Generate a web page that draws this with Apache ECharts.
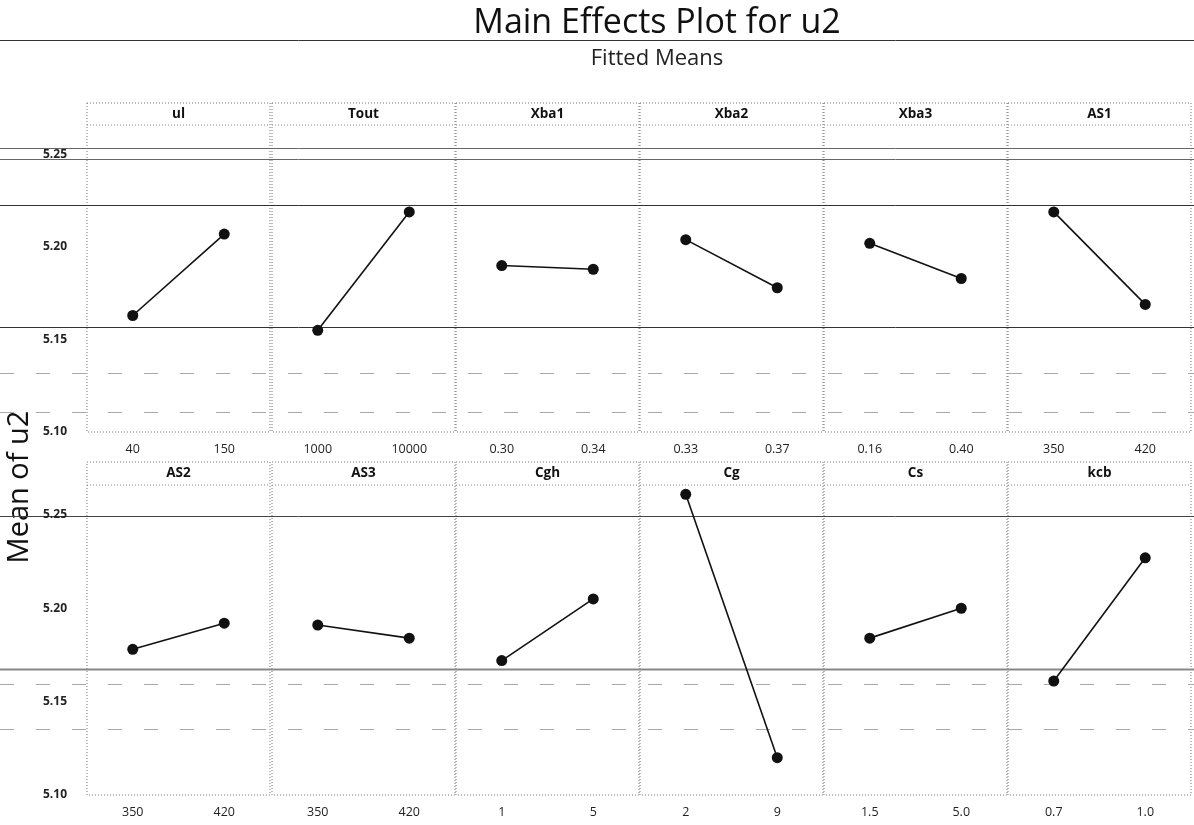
<!DOCTYPE html>
<html>
<head>
<meta charset="utf-8">
<script src="https://cdn.jsdelivr.net/npm/echarts@6/dist/echarts.min.js"></script>
<style>
  html, body { margin: 0; padding: 0; background: #fff; }
  #chart { width: 1194px; height: 825px; }
</style>
</head>
<body>
<div id="chart"></div>
<script>
// Factors, their two levels and the fitted mean of u2 at each level
const factors = ['ul', 'Tout', 'Xba1', 'Xba2', 'Xba3', 'AS1', 'AS2', 'AS3', 'Cgh', 'Cg', 'Cs', 'kcb'];
const levelLabels = [
  ['40', '150'], ['1000', '10000'], ['0.30', '0.34'], ['0.33', '0.37'], ['0.16', '0.40'], ['350', '420'],
  ['350', '420'], ['350', '420'], ['1', '5'], ['2', '9'], ['1.5', '5.0'], ['0.7', '1.0']
];
const fittedMeans = [
  [5.163, 5.207], [5.155, 5.219], [5.190, 5.188], [5.204, 5.178], [5.202, 5.183], [5.219, 5.169],
  [5.178, 5.192], [5.191, 5.184], [5.172, 5.205], [5.261, 5.120], [5.184, 5.200], [5.161, 5.227]
];
const yTickLabels = ['5.10', '5.15', '5.20', '5.25'];
// Horizontal rules across each row (value on the row's axis)
const topRowRules = [5.2535, 5.2475, 5.2227, 5.1568];
const bottomRowRules = [5.2495, 5.1676];
const topRowDashed = [5.132, 5.111];
const bottomRowDashed = [5.1596, 5.1351];

const Y_MIN = 5.10, Y_MAX = 5.266, Y_STEP = 0.05;
const panelLefts = [87, 272, 456, 640, 824, 1008];
const panelWidth = 183;
const rows = [
  { headerTop: 103, plotTop: 125, plotBottom: 432 },
  { headerTop: 462, plotTop: 485, plotBottom: 795 }
];
const FONT = '"Open Sans", "Noto Sans", sans-serif';

const chart = echarts.init(document.getElementById('chart'), null, { renderer: 'canvas' });

const grids = [], xAxes = [], yAxes = [], series = [];
factors.forEach((name, i) => {
  const row = rows[Math.floor(i / 6)];
  const col = i % 6;
  grids.push({
    left: panelLefts[col], width: panelWidth,
    top: row.plotTop, height: row.plotBottom - row.plotTop,
    containLabel: false
  });
  xAxes.push({
    type: 'category', gridIndex: i, data: levelLabels[i],
    axisLine: { show: false }, axisTick: { show: false },
    axisLabel: { fontSize: 12.5, color: '#222', margin: 11, fontFamily: FONT }
  });
  yAxes.push({
    type: 'value', gridIndex: i, min: Y_MIN, max: Y_MAX, interval: Y_STEP,
    splitLine: { show: false },
    axisLine: { show: false },
    axisTick: { show: false },
    axisLabel: {
      show: col === 0, fontSize: 12, fontWeight: 'bold', color: '#222', margin: 20, fontFamily: FONT,
      formatter: v => {
        const s = v.toFixed(2);
        return yTickLabels.includes(s) ? s : '';
      }
    }
  });
  series.push({
    type: 'line', name: name, xAxisIndex: i, yAxisIndex: i,
    data: fittedMeans[i],
    symbol: 'circle', symbolSize: 11,
    lineStyle: { color: '#111', width: 1.6 },
    itemStyle: { color: '#111' },
    silent: true, animation: false
  });
});

chart.setOption({
  animation: false,
  grid: grids, xAxis: xAxes, yAxis: yAxes, series: series
});

// Frames, strip headers, titles and row rules
const graphics = [];
graphics.push({
  type: 'text', x: 657, y: 23,
  style: { text: 'Main Effects Plot for u2', font: '34px ' + FONT, fill: '#111', textAlign: 'center', textVerticalAlign: 'middle' }
});
graphics.push({ type: 'line', shape: { x1: 0, y1: 40.5, x2: 1194, y2: 40.5 }, style: { stroke: '#333', lineWidth: 1 } });
graphics.push({
  type: 'text', x: 657, y: 59,
  style: { text: 'Fitted Means', font: '22px ' + FONT, fill: '#222', textAlign: 'center', textVerticalAlign: 'middle' }
});
graphics.push({
  type: 'text', x: 20, y: 487, rotation: Math.PI / 2,
  style: { text: 'Mean of u2', font: '29px ' + FONT, fill: '#111', textAlign: 'center', textVerticalAlign: 'middle' }
});

factors.forEach((name, i) => {
  const row = rows[Math.floor(i / 6)];
  const x = panelLefts[i % 6];
  graphics.push({
    type: 'rect',
    shape: { x: x, y: row.headerTop, width: panelWidth, height: row.plotBottom - row.headerTop },
    style: { fill: 'none', stroke: '#777', lineWidth: 1, lineDash: [1, 2] }
  });
  graphics.push({
    type: 'line',
    shape: { x1: x, y1: row.plotTop, x2: x + panelWidth, y2: row.plotTop },
    style: { stroke: '#888', lineWidth: 1, lineDash: [1, 2] }
  });
  graphics.push({
    type: 'text', x: x + panelWidth / 2, y: (row.headerTop + row.plotTop) / 2,
    style: { text: name, font: 'bold 13.5px ' + FONT, fill: '#111', textAlign: 'center', textVerticalAlign: 'middle' }
  });
});

const ruleLine = (yPix, stroke, width, dash) => ({
  type: 'line', shape: { x1: 0, y1: yPix, x2: 1194, y2: yPix },
  style: { stroke: stroke, lineWidth: width, lineDash: dash || null }
});
const rowPixel = (axisIndex, v) => Math.round(chart.convertToPixel({ yAxisIndex: axisIndex }, v)) + 0.5;
topRowRules.forEach((v, k) => {
  graphics.push(ruleLine(rowPixel(0, v), k < 2 ? '#666' : '#333', 1));
});
bottomRowRules.forEach((v, k) => {
  graphics.push(ruleLine(rowPixel(6, v), k === 0 ? '#444' : '#888', k === 0 ? 1 : 2));
});
topRowDashed.forEach(v => graphics.push(ruleLine(rowPixel(0, v), '#aaa', 1, [14, 22])));
bottomRowDashed.forEach(v => graphics.push(ruleLine(rowPixel(6, v), '#aaa', 1, [14, 22])));

chart.setOption({ graphic: graphics });
</script>
</body>
</html>
